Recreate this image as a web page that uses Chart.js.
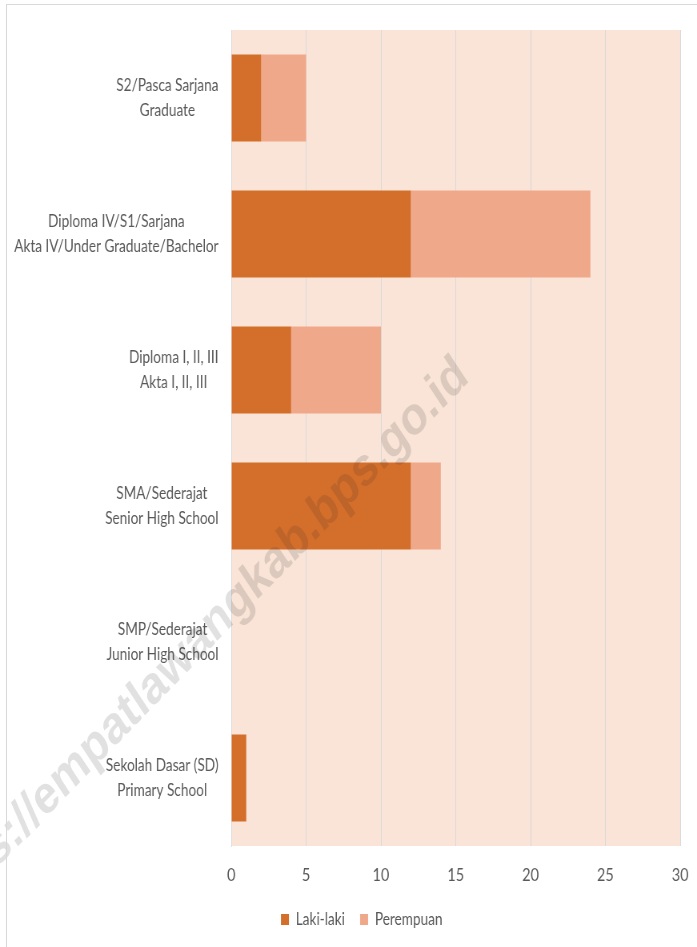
<!DOCTYPE html>
<html>
<head>
<meta charset="utf-8">
<script src="https://cdn.jsdelivr.net/npm/chart.js@4.4.1/dist/chart.umd.min.js"></script>
<style>
  html, body { margin: 0; padding: 0; background: #ffffff; }
  #wrap { position: relative; width: 697px; height: 947px; overflow: hidden; }
  #frame { position: absolute; left: 6px; top: 4px; width: 720px; height: 980px;
           border-left: 1px solid #d9d9d9; border-top: 1px solid #d9d9d9; box-sizing: border-box; pointer-events: none; }
  #c { position: absolute; left: 0; top: 0; transform-origin: 0 0; transform: scaleX(0.80023); }
</style>
</head>
<body>
<div id="wrap">
  <canvas id="c" width="871" height="947"></canvas>
  <div id="frame"></div>
</div>
<script>
// ---- data ----
const categories = [
  ["S2/Pasca Sarjana", "Graduate"],
  ["Diploma IV/S1/Sarjana", "Akta IV/Under Graduate/Bachelor"],
  ["Diploma I, II, III", "Akta I, II, III"],
  ["SMA/Sederajat", "Senior High School"],
  ["SMP/Sederajat", "Junior High School"],
  ["Sekolah Dasar (SD)", "Primary School"]
];
const seriesNames = ["Laki-laki", "Perempuan"];
const lakiLaki = [2, 12, 4, 12, 0, 1];
const perempuan = [3, 12, 6, 2, 0, 0];
const xTicks = [0, 5, 10, 15, 20, 25, 30];
const watermark = "https://empatlawangkab.bps.go.id";

const FONT = "Lato, 'Open Sans', sans-serif";
const TEXT_COLOR = "#595959";

const bgPlugin = {
  id: 'plotBg',
  beforeDraw(chart) {
    const { ctx, chartArea: a } = chart;
    ctx.save();
    ctx.fillStyle = '#FAE4D7';
    ctx.fillRect(a.left, a.top, a.right - a.left, a.bottom - a.top);
    ctx.restore();
  }
};

const legendShift = {
  id: 'legendShift',
  afterLayout(chart) {
    if (chart.legend) { chart.legend.left += 27; chart.legend.right += 27; }
  }
};

const yLabelPlugin = {
  id: 'yLabels',
  afterDraw(chart) {
    const { ctx } = chart;
    const y = chart.scales.y;
    const rightEdge = chart.chartArea.left - 16;
    ctx.save();
    ctx.font = "17px " + FONT;
    ctx.fillStyle = TEXT_COLOR;
    ctx.textAlign = 'center';
    ctx.textBaseline = 'middle';
    const lh = 25;
    categories.forEach((lines, i) => {
      const cy = y.getPixelForValue(i);
      const w = Math.max(...lines.map(l => ctx.measureText(l).width));
      const cx = rightEdge - w / 2;
      const start = cy - (lines.length - 1) * lh / 2;
      lines.forEach((l, j) => ctx.fillText(l, cx, start + j * lh));
    });
    ctx.restore();
  }
};

const watermarkPlugin = {
  id: 'wm',
  afterDraw(chart) {
    const { ctx } = chart;
    ctx.save();
    ctx.translate(588, 380);
    ctx.rotate(-39.5 * Math.PI / 180);
    ctx.font = "bold 54px 'Liberation Sans', Arial, sans-serif";
    ctx.fillStyle = 'rgba(40,40,40,0.14)';
    ctx.textAlign = 'right';
    ctx.textBaseline = 'alphabetic';
    ctx.fillText(watermark, 0, 0);
    ctx.restore();
  }
};

new Chart(document.getElementById('c'), {
  type: 'bar',
  data: {
    labels: categories,
    datasets: [
      { label: seriesNames[0], data: lakiLaki, backgroundColor: '#D46E2B', borderWidth: 0 },
      { label: seriesNames[1], data: perempuan, backgroundColor: '#F0A88A', borderWidth: 0 }
    ]
  },
  options: {
    indexAxis: 'y',
    responsive: false,
    animation: false,
    devicePixelRatio: 1,
    layout: { padding: { top: 30, right: 21, left: 0, bottom: 9 } },
    datasets: { bar: { barPercentage: 0.8, categoryPercentage: 0.8 } },
    scales: {
      x: {
        stacked: true,
        min: 0, max: 30,
        afterBuildTicks(scale) { scale.ticks = xTicks.map(v => ({ value: v })); },
        grid: { color: '#D9D9D9', lineWidth: 1, drawTicks: false },
        border: { display: false },
        ticks: { color: TEXT_COLOR, font: { family: FONT, size: 18 }, padding: 18 },
        afterFit(scale) { scale.height = 46; scale.paddingRight = 0; scale.paddingLeft = 0; }
      },
      y: {
        stacked: true,
        grid: { display: false },
        border: { display: true, color: '#D9D9D9' },
        ticks: { display: false },
        afterFit(scale) { scale.width = 289; }
      }
    },
    plugins: {
      legend: {
        position: 'bottom',
        labels: {
          color: TEXT_COLOR,
          font: { family: FONT, size: 17 },
          boxWidth: 10, boxHeight: 11, padding: 19
        }
      },
      tooltip: { enabled: false }
    }
  },
  plugins: [bgPlugin, legendShift, yLabelPlugin, watermarkPlugin]
});
</script>
</body>
</html>
